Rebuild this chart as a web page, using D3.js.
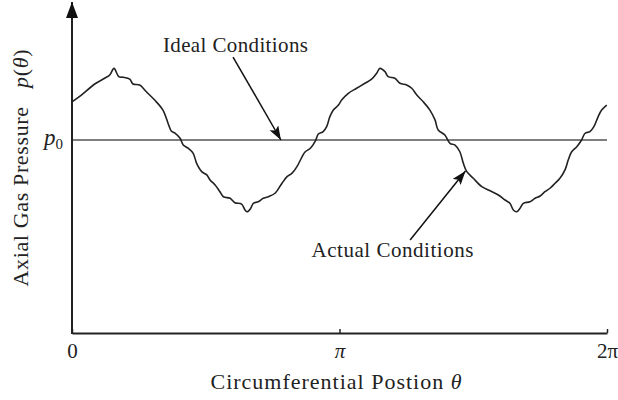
<!DOCTYPE html>
<html lang="en">
<head>
	<meta charset="UTF-8">
	<title>Axial Gas Pressure</title>
	<script src="https://cdn.jsdelivr.net/npm/d3@7"></script>
	<style>
		body { margin: 0; background: #fff; }
		text { font-family: "Liberation Serif", "Times New Roman", serif; fill: #222; }
	</style>
</head>
<body>
	<svg id="viz"></svg>
	<script>
		// Data (theta in units of pi, pressure in units of p0) ---
		const theta = [
			0, 0.035, 0.085, 0.122, 0.141, 0.157, 0.175, 0.191, 0.216, 0.228, 0.253, 0.278, 0.309, 0.340,
			0.359, 0.371, 0.385, 0.404, 0.416, 0.435, 0.453, 0.466, 0.485, 0.504, 0.516, 0.535, 0.553,
			0.566, 0.591, 0.609, 0.634, 0.647, 0.655, 0.668, 0.678, 0.696, 0.715, 0.734, 0.759, 0.785,
			0.804, 0.822, 0.841, 0.860, 0.872, 0.891, 0.910, 0.921, 0.939, 0.952, 0.964, 0.977, 0.996,
			1.008, 1.033, 1.064, 1.095, 1.120, 1.139, 1.151, 1.170, 1.182, 1.207, 1.226, 1.251, 1.270,
			1.289, 1.313, 1.338, 1.357, 1.369, 1.394, 1.413, 1.432, 1.450, 1.463, 1.476, 1.500, 1.532,
			1.563, 1.594, 1.619, 1.637, 1.650, 1.662, 1.675, 1.687, 1.712, 1.731, 1.750, 1.768, 1.787,
			1.806, 1.824, 1.843, 1.855, 1.868, 1.887, 1.905, 1.918, 1.936, 1.951, 1.967, 1.980, 1.999
		];
		const pressure = [
			1.198, 1.233, 1.290, 1.320, 1.337, 1.371, 1.328, 1.325, 1.315, 1.290, 1.285, 1.250, 1.207, 1.155,
			1.087, 1.047, 1.036, 1.009, 0.974, 0.957, 0.931, 0.879, 0.836, 0.819, 0.793, 0.767, 0.732,
			0.706, 0.698, 0.675, 0.668, 0.637, 0.628, 0.646, 0.672, 0.680, 0.698, 0.706, 0.724, 0.776,
			0.810, 0.827, 0.862, 0.913, 0.939, 0.957, 0.996, 1.031, 1.043, 1.069, 1.121, 1.155, 1.181,
			1.207, 1.242, 1.268, 1.294, 1.315, 1.346, 1.371, 1.354, 1.328, 1.320, 1.294, 1.285, 1.268,
			1.233, 1.198, 1.155, 1.104, 1.052, 1.026, 0.983, 0.974, 0.939, 0.879, 0.836, 0.802, 0.758,
			0.737, 0.715, 0.689, 0.672, 0.637, 0.628, 0.646, 0.672, 0.680, 0.698, 0.710, 0.732, 0.750,
			0.776, 0.802, 0.845, 0.896, 0.939, 0.965, 1.000, 1.035, 1.043, 1.069, 1.121, 1.155, 1.181
		];
		const idealPressure = 1;
		const xTickValues = [0, 1, 2];
		const xTickLabels = ['0', 'π', '2π'];

		// Chart dimensions ---
		const svgWidth = 618, svgHeight = 400;
		const left = 72, right = 607, bottom = 333;

		const svg = d3.select('#viz')
			.attr('width', svgWidth)
			.attr('height', svgHeight);

		const x = d3.scaleLinear().domain([0, 2]).range([left, right]);
		const y = d3.scaleLinear().domain([0, 1]).range([bottom, 140]);

		// Arrow markers ---
		const defs = svg.append('defs');
		defs.append('marker')
			.attr('id', 'head')
			.attr('markerUnits', 'userSpaceOnUse')
			.attr('markerWidth', 16).attr('markerHeight', 12)
			.attr('refX', 14).attr('refY', 5)
			.attr('orient', 'auto')
			.append('path')
			.attr('d', 'M0,0 L14,5 L0,10 L3,5 z')
			.attr('fill', '#111');
		defs.append('marker')
			.attr('id', 'axisHead')
			.attr('markerUnits', 'userSpaceOnUse')
			.attr('markerWidth', 18).attr('markerHeight', 14)
			.attr('refX', 16).attr('refY', 6)
			.attr('orient', 'auto')
			.append('path')
			.attr('d', 'M0,0 L16,6 L0,12 z')
			.attr('fill', '#111');

		// Ideal line p0 ---
		svg.append('line')
			.attr('x1', x(0)).attr('x2', x(2))
			.attr('y1', y(idealPressure)).attr('y2', y(idealPressure))
			.attr('stroke', '#555')
			.attr('stroke-width', 1.3);

		// Actual curve ---
		const points = theta.map((t, i) => [t, pressure[i]]);
		svg.append('path')
			.datum(points)
			.attr('fill', 'none')
			.attr('stroke', '#222')
			.attr('stroke-width', 1.6)
			.attr('stroke-linejoin', 'round')
			.attr('d', d3.line().x(d => x(d[0])).y(d => y(d[1])).curve(d3.curveCatmullRom.alpha(0.5)));

		// X axis ---
		const xAxis = svg.append('g')
			.attr('transform', `translate(0,${bottom})`)
			.call(d3.axisBottom(x)
				.tickValues(xTickValues)
				.tickFormat((d, i) => xTickLabels[i])
				.tickSizeInner(-4)
				.tickSizeOuter(0)
				.tickPadding(10));
		xAxis.select('.domain').attr('stroke', '#222').attr('stroke-width', 2);
		xAxis.selectAll('.tick line').attr('stroke', '#222').attr('stroke-width', 1.5);
		xAxis.selectAll('.tick text')
			.style('font-family', '"Liberation Serif", serif')
			.style('font-size', '21px')
			.attr('fill', '#222');
		xAxis.selectAll('.tick text').filter((d, i) => i === 1).style('font-style', 'italic');

		// Y axis with arrow ---
		svg.append('line')
			.attr('x1', left).attr('x2', left)
			.attr('y1', bottom + 1).attr('y2', 2)
			.attr('stroke', '#222')
			.attr('stroke-width', 2)
			.attr('marker-end', 'url(#axisHead)');

		// p0 label
		const p0 = svg.append('text')
			.attr('x', 44).attr('y', y(idealPressure) + 5)
			.style('font-size', '23px');
		p0.append('tspan').style('font-style', 'italic').text('p');
		p0.append('tspan').attr('dy', 4).style('font-size', '15px').text('0');

		// Axis titles ---
		svg.append('text')
			.attr('x', 336).attr('y', 389)
			.attr('text-anchor', 'middle')
			.attr('textLength', 251)
			.attr('lengthAdjust', 'spacing')
			.style('font-size', '22px')
			.call(t => {
				t.append('tspan').text('Circumferential Postion ');
				t.append('tspan').style('font-style', 'italic').text('θ');
			});

		svg.append('text')
			.attr('transform', 'translate(28,168) rotate(-90)')
			.attr('text-anchor', 'middle')
			.attr('textLength', 237)
			.attr('lengthAdjust', 'spacing')
			.style('font-size', '22px')
			.style('white-space', 'pre')
			.call(t => {
				t.append('tspan').text('Axial Gas Pressure   ');
				t.append('tspan').style('font-style', 'italic').text('p');
				t.append('tspan').text('(');
				t.append('tspan').style('font-style', 'italic').text('θ');
				t.append('tspan').text(')');
			});

		// Annotations ---
		svg.append('text')
			.attr('x', x(0.611)).attr('y', y(1.456))
			.attr('text-anchor', 'middle')
			.attr('textLength', 145)
			.attr('lengthAdjust', 'spacing')
			.style('font-size', '21px')
			.text('Ideal Conditions');
		svg.append('line')
			.attr('x1', x(0.602)).attr('y1', y(1.43))
			.attr('x2', x(0.781)).attr('y2', y(1.0))
			.attr('stroke', '#111').attr('stroke-width', 1.5)
			.attr('marker-end', 'url(#head)');

		svg.append('text')
			.attr('x', x(1.198)).attr('y', y(0.394))
			.attr('text-anchor', 'middle')
			.attr('textLength', 162)
			.attr('lengthAdjust', 'spacing')
			.style('font-size', '21px')
			.text('Actual Conditions');
		svg.append('line')
			.attr('x1', x(1.264)).attr('y1', y(0.482))
			.attr('x2', x(1.471)).attr('y2', y(0.839))
			.attr('stroke', '#111').attr('stroke-width', 1.5)
			.attr('marker-end', 'url(#head)');
	</script>
</body>
</html>
